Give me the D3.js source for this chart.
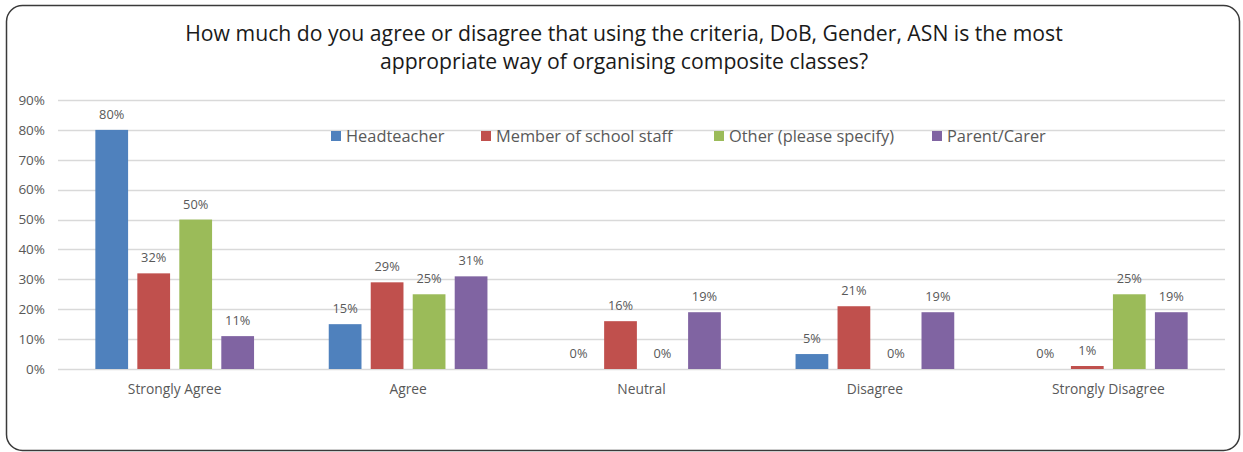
<!DOCTYPE html>
<html>
<head>
<meta charset="utf-8">
<script src="https://cdn.jsdelivr.net/npm/d3@7"></script>
<style>
  html, body { margin: 0; padding: 0; background: #fff; }
  svg { display: block; }
  text { font-family: "Open Sans", "Noto Sans", sans-serif; }
</style>
</head>
<body>
<svg id="chart" width="1243" height="452"></svg>
<script>
// Survey responses, share of each respondent group per answer
const categories = ["Strongly Agree", "Agree", "Neutral", "Disagree", "Strongly Disagree"];
const seriesNames = ["Headteacher", "Member of school staff", "Other (please specify)", "Parent/Carer"];
const headteacher = [0.80, 0.15, 0.00, 0.05, 0.00];
const schoolStaff = [0.32, 0.29, 0.16, 0.21, 0.01];
const otherGroup  = [0.50, 0.25, 0.00, 0.00, 0.25];
const parentCarer = [0.11, 0.31, 0.19, 0.19, 0.19];
const yTicks = [0, 0.1, 0.2, 0.3, 0.4, 0.5, 0.6, 0.7, 0.8, 0.9];
const titleLines = [
  "How much do you agree or disagree that using the criteria, DoB, Gender, ASN is the most",
  "appropriate way of organising composite classes?"
];

const seriesValues = [headteacher, schoolStaff, otherGroup, parentCarer];
const colors = ["#4F81BD", "#C0504D", "#9BBB59", "#8064A2"];

const svg = d3.select("#chart");
const W = 1243, H = 452;

// rounded frame
svg.append("rect")
  .attr("x", 6.5).attr("y", 5.5)
  .attr("width", 1233).attr("height", 445)
  .attr("rx", 16).attr("ry", 16)
  .attr("fill", "#fff")
  .attr("stroke", "#3a3a3a")
  .attr("stroke-width", 1.5);

// title
const title = svg.append("text")
  .attr("text-anchor", "middle")
  .attr("fill", "#1a1a1a")
  .attr("font-size", 21.2);
titleLines.forEach((t, i) => {
  title.append("tspan").attr("x", 624).attr("y", 41 + i * 28).text(t);
});

const margin = { left: 58, right: 18, top: 100, bottom: 83 };
const plotW = W - margin.left - margin.right;
const plotH = H - margin.top - margin.bottom;

const g = svg.append("g").attr("transform", `translate(${margin.left},${margin.top})`);

const y = d3.scaleLinear().domain([0, 0.9]).range([plotH, 0]);
const x0 = d3.scaleBand().domain(categories).range([0, plotW]).paddingInner(0.32).paddingOuter(0.16);
const x1 = d3.scaleBand().domain(seriesNames).range([0, x0.bandwidth()]).paddingInner(0.22);

// gridlines
g.append("g")
  .selectAll("line")
  .data(yTicks)
  .join("line")
  .attr("x1", 0).attr("x2", plotW)
  .attr("y1", d => Math.round(y(d)) + 0.5)
  .attr("y2", d => Math.round(y(d)) + 0.5)
  .attr("stroke", "#d9d9d9")
  .attr("stroke-width", 1.3);

// y axis labels
const yAxis = d3.axisLeft(y).tickValues(yTicks).tickFormat(d3.format(".0%")).tickSize(0).tickPadding(13);
g.append("g").call(yAxis)
  .call(s => s.select(".domain").remove())
  .selectAll("text")
  .attr("fill", "#595959")
  .attr("font-size", 13.5)
  .attr("font-family", "\"Open Sans\", sans-serif");

// x axis labels
const xAxis = d3.axisBottom(x0).tickSize(0).tickPadding(15);
g.append("g").attr("transform", `translate(0,${plotH})`).call(xAxis)
  .call(s => s.select(".domain").remove())
  .selectAll("text")
  .attr("fill", "#595959")
  .attr("font-size", 13.8)
  .attr("font-family", "\"Open Sans\", sans-serif");

// bars
const rows = categories.map((c, ci) => ({
  category: c,
  values: seriesNames.map((s, si) => ({ series: s, si, value: seriesValues[si][ci] }))
}));

const groups = g.append("g").selectAll("g")
  .data(rows)
  .join("g")
  .attr("transform", d => `translate(${x0(d.category)},0)`);

groups.selectAll("rect")
  .data(d => d.values)
  .join("rect")
  .attr("x", d => x1(d.series))
  .attr("width", x1.bandwidth())
  .attr("y", d => y(d.value))
  .attr("height", d => plotH - y(d.value))
  .attr("fill", d => colors[d.si]);

groups.selectAll("text")
  .data(d => d.values)
  .join("text")
  .attr("x", d => x1(d.series) + x1.bandwidth() / 2)
  .attr("y", d => y(d.value) - 11)
  .attr("text-anchor", "middle")
  .attr("fill", "#595959")
  .attr("font-size", 12.8)
  .text(d => d3.format(".0%")(d.value));

// legend
const legendX = [331, 481, 714, 932];
const legend = svg.append("g").selectAll("g")
  .data(seriesNames)
  .join("g")
  .attr("transform", (d, i) => `translate(${legendX[i]},136)`);
legend.append("rect")
  .attr("x", 0).attr("y", -5)
  .attr("width", 10).attr("height", 10)
  .attr("fill", (d, i) => colors[i]);
legend.append("text")
  .attr("x", 15).attr("y", 6)
  .attr("fill", "#595959")
  .attr("font-size", 16.4)
  .text(d => d);
</script>
</body>
</html>
